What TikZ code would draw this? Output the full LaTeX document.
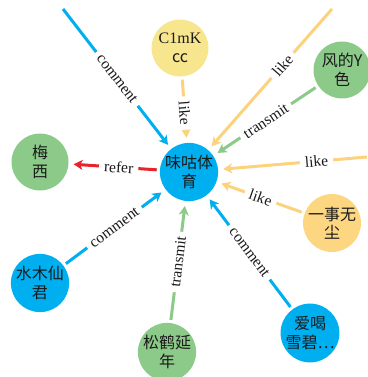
\documentclass[tikz,border=0pt]{standalone}
\usepackage{fontspec}
\setmainfont{Liberation Serif}
\newfontfamily\cjk{Noto Sans CJK SC}
\usetikzlibrary{arrows.meta}

\definecolor{nblue}{HTML}{00AFEF}
\definecolor{ngreen}{HTML}{8CCA89}
\definecolor{nyellow}{HTML}{F8E68F}
\definecolor{norange}{HTML}{FDD681}
\definecolor{elike}{HTML}{FDD27C}
\definecolor{erefer}{HTML}{E8232B}
\definecolor{txt}{HTML}{1A1A1A}

\tikzset{
  person/.style={circle, minimum size=57pt, inner sep=0pt, text=txt,
    align=center, font=\cjk\fontsize{16}{18.5}\selectfont},
  rel/.style={line width=3pt, shorten >=5pt, shorten <=3pt,
    -{Stealth[length=9pt,width=10pt,inset=2.5pt]}},
  lbl/.style={sloped, fill=white, inner xsep=5pt, inner ysep=2pt, text=txt,
    font=\fontsize{15.5}{15.5}\selectfont},
}

\begin{document}
\begin{tikzpicture}[x=1pt,y=-1pt]
\useasboundingbox (0,0) rectangle (367,377);

% people
\node[person, fill=nblue]   (hub)    at (189,172) {味咕体\\育};
\node[person, fill=nyellow] (c1mk)   at (180,48)  {\fontspec{Liberation Serif}C1mK\\cc};
\node[person, fill=ngreen]  (fengy)  at (342,70)  {风的Y\\色};
\node[person, fill=ngreen]  (meixi)  at (40,162)  {梅\\西};
\node[person, fill=norange] (yishi)  at (332,223) {一事无\\尘};
\node[person, fill=nblue]   (aihe)   at (310,333) {爱喝\\雪碧…};
\node[person, fill=nblue]   (shuimu) at (40,283)  {水木仙\\君};
\node[person, fill=ngreen]  (songhe) at (167,352) {松鹤延\\年};

% sources outside the frame
\coordinate (tl) at (63,9);
\coordinate (tr) at (332,9);
\coordinate (rt) at (367,157);

% relations
\draw[rel, nblue, shorten <=0pt] (tl) -- node[lbl, pos=0.5] {comment} (hub);
\draw[rel, elike] (c1mk) -- node[lbl, pos=0.55] {like} (hub);
\draw[rel, elike, shorten <=0pt] (tr) -- node[lbl, pos=0.4] {like} (hub);
\draw[rel, ngreen] (fengy) -- node[lbl, pos=0.5] {transmit} (hub);
\draw[rel, elike, shorten <=0pt] (rt) -- node[lbl, pos=0.34] {like} (hub);
\draw[rel, elike] (yishi) -- node[lbl, pos=0.5] {like} (hub);
\draw[rel, nblue] (aihe) -- node[lbl, pos=0.5] {comment} (hub);
\draw[rel, ngreen] (songhe) -- node[lbl, pos=0.5] {transmit} (hub);
\draw[rel, nblue] (shuimu) -- node[lbl, pos=0.5] {comment} (hub);
\draw[rel, erefer] (hub) -- node[lbl, pos=0.45] {refer} (meixi);
\end{tikzpicture}
\end{document}
